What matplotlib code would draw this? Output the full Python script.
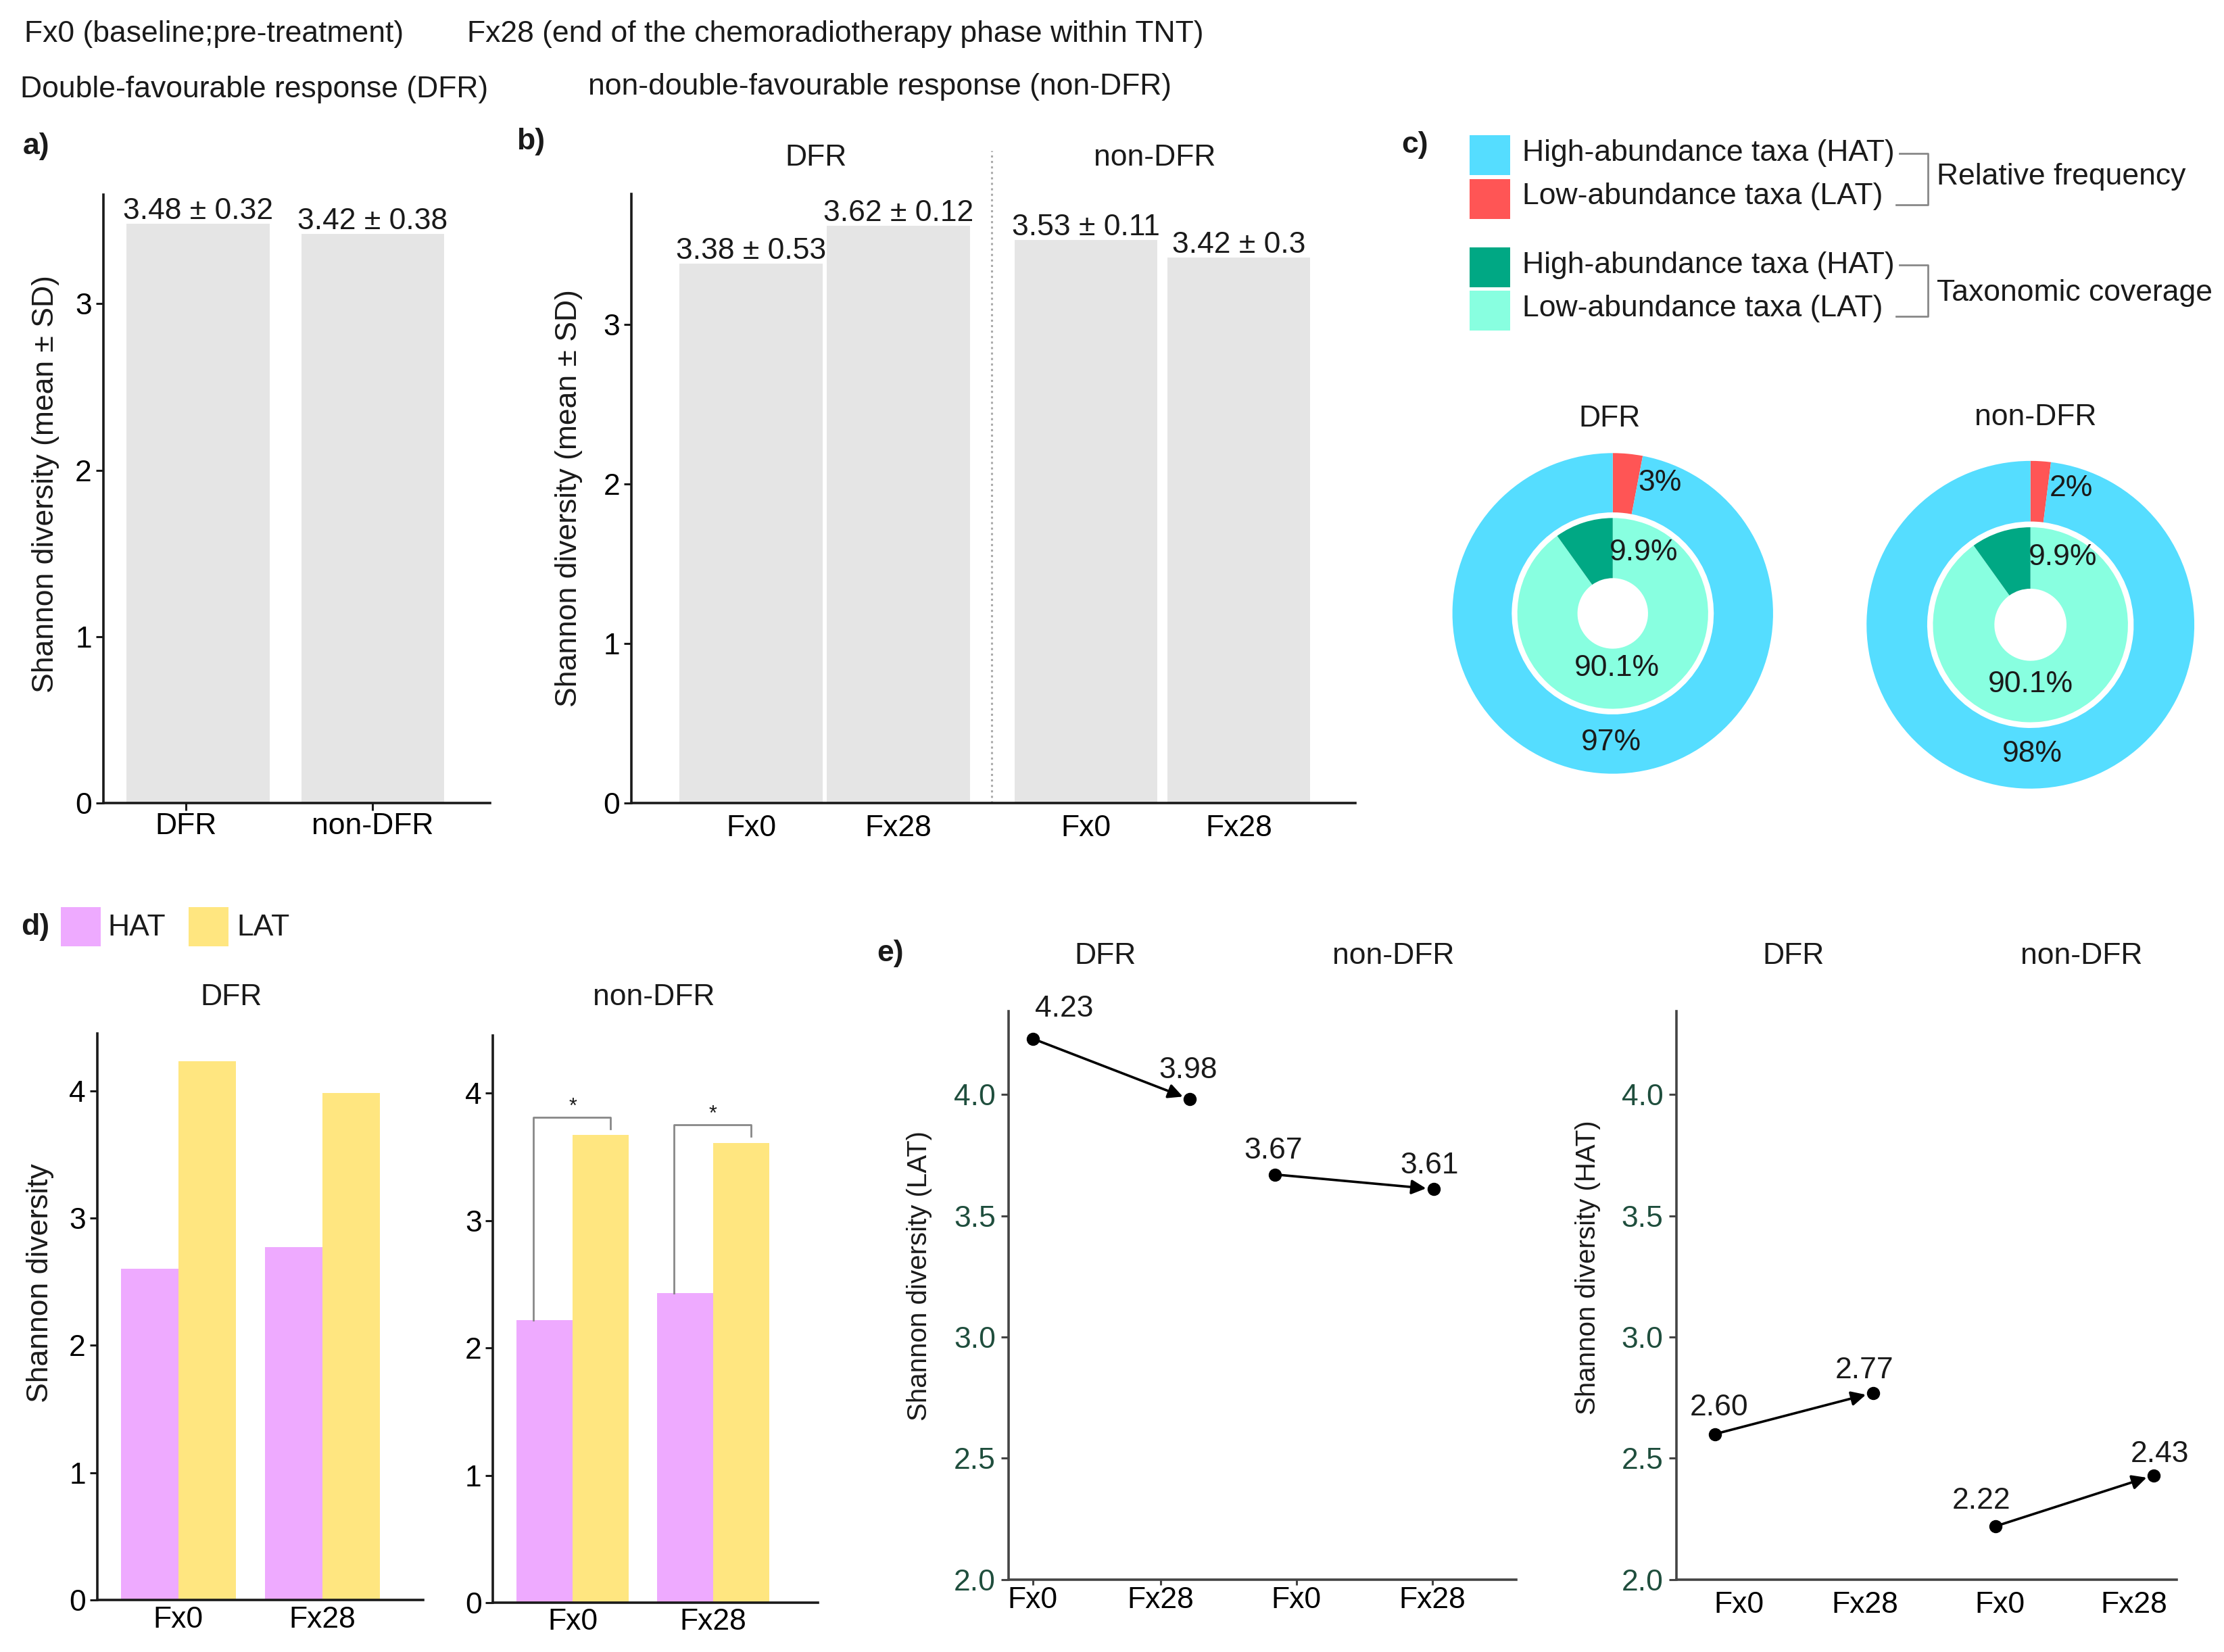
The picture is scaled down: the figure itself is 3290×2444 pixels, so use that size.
import matplotlib
matplotlib.use("Agg")
import matplotlib.pyplot as plt
from matplotlib.patches import Rectangle

plt.rcParams['font.family'] = ['Liberation Sans', 'DejaVu Sans']
plt.rcParams['font.size'] = 16
plt.rcParams['text.color'] = '#1a1a1a'

# layout grid = reference preview pixels (1568 x 1164)
W, H = 1568, 1164

# ---------------- data ----------------
groups = ['DFR', 'non-DFR']
times = ['Fx0', 'Fx28']

a_mean = [3.48, 3.42]
a_sd = [0.32, 0.38]

b_mean = [3.38, 3.62, 3.53, 3.42]
b_sd = [0.53, 0.12, 0.11, 0.3]

freq_lat = [3, 2]        # relative frequency (%)
freq_hat = [97, 98]
cov_lat = [90.1, 90.1]   # taxonomic coverage (%)
cov_hat = [9.9, 9.9]

hat_dfr = [2.60, 2.77]
lat_dfr = [4.23, 3.98]
hat_non = [2.22, 2.43]
lat_non = [3.67, 3.61]

# ---------------- colours ----------------
grey = '#E5E5E5'
cyan = '#55DDFF'
red = '#FF5555'
dgreen = '#00A884'
aqua = '#88FFE0'
pink = '#EEAAFF'
yellow = '#FFE680'
tickgreen = '#1F4E3D'


def rect(x0, y0, x1, y1):
    return [x0 / W, 1 - y1 / H, (x1 - x0) / W, (y1 - y0) / H]


def ftext(x, y, s, **kw):
    kw.setdefault('va', 'center')
    fig.text(x / W, 1 - y / H, s, **kw)


def style(ax, color='#1a1a1a'):
    for s in ['top', 'right']:
        ax.spines[s].set_visible(False)
    for s in ['left', 'bottom']:
        ax.spines[s].set_linewidth(1.3)
        ax.spines[s].set_color(color)
    ax.tick_params(width=1.1, length=4, color=color, labelsize=16, pad=2)
    ax.patch.set_alpha(0)


fig = plt.figure(figsize=(3291 / 200, 2444 / 200))

# overlay for legends / brackets in layout coords
ov = fig.add_axes([0, 0, 1, 1])
ov.set_xlim(0, W)
ov.set_ylim(H, 0)
ov.axis('off')

# ---------------- header ----------------
ftext(17, 24, 'Fx0 (baseline;pre-treatment)')
ftext(329, 24, 'Fx28 (end of the chemoradiotherapy phase within TNT)')
ftext(14.5, 63, 'Double-favourable response (DFR)')
ftext(414.5, 61, 'non-double-favourable response (non-DFR)')

for lab, x, y in [('a)', 16, 103), ('b)', 364, 100), ('c)', 988, 102),
                  ('d)', 15, 653), ('e)', 618, 672)]:
    ftext(x, y, lab, fontweight='bold')

# ---------------- panel a ----------------
ax = fig.add_axes(rect(72.7, 137.3, 345.2, 565.8))
style(ax)
xa = [0, 1]
ax.bar(xa, a_mean, width=0.82, color=grey)
for x, m, s in zip(xa, a_mean, a_sd):
    ax.text(x, m + 0.03, f'{m:.2f} ± {s:g}', ha='center', va='baseline')
ax.set_xlim(-0.545, 1.671)
ax.set_ylim(0, 3.654)
ax.set_yticks([0, 1, 2, 3])
ax.set_xticks([-0.07, 1.0])
ax.set_xticklabels(groups)
ax.tick_params(axis='x', pad=1)
ftext(32, 341, 'Shannon diversity (mean ± SD)', rotation=90, ha='center')

# ---------------- panel b ----------------
ax = fig.add_axes(rect(445, 136.5, 955.4, 566))
style(ax)
xb = [0, 1, 2.275, 3.311]
ax.bar(xb, b_mean, width=0.97, color=grey)
for x, m, s in zip(xb, b_mean, b_sd):
    ax.text(x, m + 0.03, f'{m:.2f} ± {s:g}', ha='center', va='baseline')
ax.axvline(1.634, ymin=0, ymax=1.07, color='#aaaaaa', ls=':', lw=1.1, clip_on=False)
ax.set_xlim(-0.813, 4.104)
ax.set_ylim(0, 3.82)
ax.set_yticks([0, 1, 2, 3])
ax.set_xticks(xb)
ax.set_xticklabels(times * 2)
ax.tick_params(axis='x', length=0, pad=6)
ftext(575, 111, groups[0], ha='center')
ftext(814, 111, groups[1], ha='center')
ftext(401, 351, 'Shannon diversity (mean ± SD)', rotation=90, ha='center')

# ---------------- panel c legend ----------------
leg_rows = [(cyan, 'High-abundance taxa (HAT)', 95.3, 108),
            (red, 'Low-abundance taxa (LAT)', 126.2, 138.5),
            (dgreen, 'High-abundance taxa (HAT)', 174.4, 187),
            (aqua, 'Low-abundance taxa (LAT)', 204.9, 217.5)]
for col, txt, top, yc in leg_rows:
    ov.add_patch(Rectangle((1036, top), 28.5, 28, color=col, lw=0))
    ov.text(1073, yc, txt, va='center', fontsize=16)
for yt, yb in [(108.3, 144.5), (186.6, 222.8)]:
    ov.plot([1339, 1358.7, 1358.7, 1336.5], [yt, yt, yb, yb], color='#888888', lw=1)
ov.text(1365, 124.7, 'Relative frequency', va='center', fontsize=16)
ov.text(1365, 206.4, 'Taxonomic coverage', va='center', fontsize=16)

# ---------------- panel c donuts ----------------
donut_geo = [(1136.7, 432.2, 113.0, 1134.4, 295), (1431.1, 440.2, 115.5, 1434.7, 294)]
lab_pos = [[(0.293, 0.812), (-0.01, -0.806), (0.194, 0.380), (0.027, -0.343)],
           [(0.25, 0.834), (0.012, -0.79), (0.197, 0.413), (0.003, -0.364)]]
for i, (cx, cy, R, tx, ty) in enumerate(donut_geo):
    ax = fig.add_axes(rect(cx - R, cy - R, cx + R, cy + R))
    ax.pie([freq_lat[i], freq_hat[i]], radius=1, startangle=90, counterclock=False,
           colors=[red, cyan], wedgeprops=dict(width=0.37, linewidth=0))
    ax.pie([cov_lat[i], cov_hat[i]], radius=0.595, startangle=90, counterclock=False,
           colors=[aqua, dgreen], wedgeprops=dict(width=0.375, linewidth=0))
    ax.set_xlim(-1, 1)
    ax.set_ylim(-1, 1)
    vals = [freq_lat[i], freq_hat[i], cov_hat[i], cov_lat[i]]
    for v, (px, py) in zip(vals, lab_pos[i]):
        ax.text(px, py, f'{v:g}%', ha='center', va='center', fontsize=16)
    ftext(tx, ty, groups[i], ha='center')

# ---------------- panel d ----------------
ov.add_patch(Rectangle((43, 639), 28, 28, color=pink, lw=0))
ov.text(76, 653.5, 'HAT', va='center', fontsize=16)
ov.add_patch(Rectangle((133, 639), 28, 28, color=yellow, lw=0))
ov.text(167, 653.5, 'LAT', va='center', fontsize=16)

d_sets = [(rect(68.4, 728.1, 298.2, 1127.5), hat_dfr, lat_dfr, (-0.565, 1.70), 163),
          (rect(347.5, 729.8, 576.5, 1129.3), hat_non, lat_non, (-0.569, 1.749), 461)]
xd = [0, 1]
for j, (r, hat, lat, xl, tx) in enumerate(d_sets):
    ax = fig.add_axes(r)
    style(ax)
    ax.bar([x - 0.2 for x in xd], hat, width=0.4, color=pink)
    ax.bar([x + 0.2 for x in xd], lat, width=0.4, color=yellow)
    ax.set_xlim(*xl)
    ax.set_ylim(0, 4.45)
    ax.set_yticks([0, 1, 2, 3, 4])
    ax.set_xticks(xd)
    ax.set_xticklabels(times)
    ax.tick_params(axis='x', length=0, pad=3)
    if j == 1:
        for x, h, l in zip(xd, hat, lat):
            top = l + 0.14
            ax.plot([x - 0.28, x - 0.28, x + 0.27, x + 0.27], [h, top, top, l + 0.05],
                    color='#888888', lw=1)
            ax.text(x, top + 0.08, '*', ha='center', va='center', fontsize=11)
    ftext(tx, 702.5, groups[j], ha='center')
ftext(28.5, 904, 'Shannon diversity', rotation=90, ha='center')

# ---------------- panel e ----------------
e_sets = [dict(r=rect(711, 712.7, 1068.6, 1113), vals=[lat_dfr, lat_non],
               xs=[[0, 1.18], [1.82, 3.01]], ticks=[0, 0.96, 1.98, 3.0], xl=(-0.18, 3.63),
               offs=[[(16.6, 15.9), (-0.8, 15.6)], [(-0.8, 12.8), (-2.3, 12.4)]],
               ylab='Shannon diversity (LAT)', yl=(648, 899), tl=3, tp=0.5,
               titles=[779, 982]),
          dict(r=rect(1181.5, 712.7, 1534, 1113), vals=[hat_dfr, hat_non],
               xs=[[-0.18, 1.01], [1.93, 3.12]], ticks=[0, 0.95, 1.96, 2.97], xl=(-0.47, 3.29),
               offs=[[(2.3, 14.0), (-4.5, 11.8)], [(-7.6, 13.4), (3.0, 11.1)]],
               ylab='Shannon diversity (HAT)', yl=(1119, 893), tl=0, tp=6,
               titles=[1264, 1467])]
for e in e_sets:
    ax = fig.add_axes(e['r'])
    style(ax, color='#444444')
    for xs, ys, offs in zip(e['xs'], e['vals'], e['offs']):
        ax.annotate('', xy=(xs[1], ys[1]), xytext=(xs[0], ys[0]),
                    arrowprops=dict(arrowstyle='-|>', color='black', lw=1.3,
                                    shrinkA=0, shrinkB=4, mutation_scale=16))
        ax.plot(xs, ys, 'o', color='black', ms=6, ls='none', clip_on=False)
        for x, y, (dx, dy) in zip(xs, ys, offs):
            ax.annotate(f'{y:.2f}', (x, y), xytext=(dx, dy), textcoords='offset points',
                        ha='center', va='center', fontsize=16, annotation_clip=False)
    ax.set_xlim(*e['xl'])
    ax.set_ylim(2, 4.342)
    ax.set_yticks([2.0, 2.5, 3.0, 3.5, 4.0])
    ax.set_yticklabels(['2.0', '2.5', '3.0', '3.5', '4.0'], color=tickgreen)
    ax.set_xticks(e['ticks'])
    ax.set_xticklabels(times * 2)
    ax.tick_params(axis='x', length=e['tl'], pad=e['tp'])
    ax.tick_params(axis='y', length=4, pad=3)
    ftext(e['yl'][0], e['yl'][1], e['ylab'], rotation=90, ha='center', fontsize=14.5)
    for tx, g in zip(e['titles'], groups):
        ftext(tx, 673.5, g, ha='center')

fig.savefig('out.png', dpi=200)
